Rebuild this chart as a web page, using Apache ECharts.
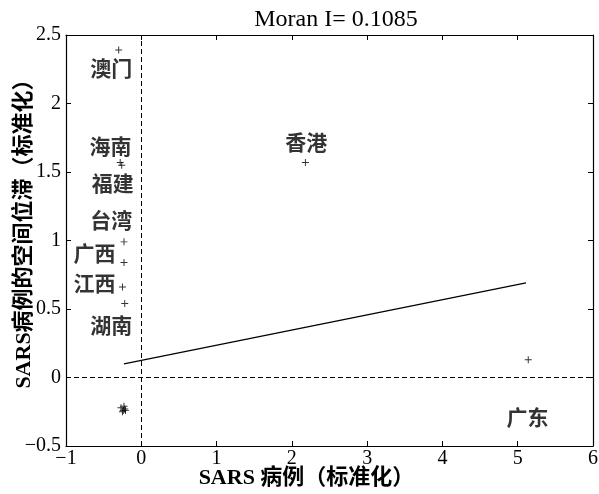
<!DOCTYPE html>
<html><head><meta charset="utf-8">
<script src="https://cdn.jsdelivr.net/npm/echarts@6/dist/echarts.min.js"></script>
<style>html,body{margin:0;padding:0;background:#fff}#c{width:599px;height:494px}</style>
</head><body><div id="c"></div>
<script>
// Data
const pointX = [-0.30, -0.28, -0.26, -0.23, -0.23, -0.25, -0.22, 2.18, 5.14, -0.27, -0.24, -0.22, -0.25, -0.21, -0.23];
const pointY = [2.39, 1.57, 1.55, 0.99, 0.84, 0.66, 0.54, 1.57, 0.13, -0.22, -0.24, -0.23, -0.25, -0.24, -0.21];
const fitX = [-0.23, 5.11];
const fitY = [0.10, 0.69];
const labelNames = ['澳门', '海南', '福建', '台湾', '广西', '江西', '湖南', '香港', '广东'];
const labelX = [-0.40, -0.41, -0.38, -0.40, -0.62, -0.62, -0.40, 2.19, 5.13];
const labelY = [2.26, 1.69, 1.42, 1.15, 0.905, 0.69, 0.38, 1.72, -0.29];
const xTicks = [-1, 0, 1, 2, 3, 4, 5, 6];
const yTicks = [-0.5, 0, 0.5, 1, 1.5, 2, 2.5];
const titleText = 'Moran I= 0.1085';
const xName = 'SARS 病例（标准化）';
const yName = 'SARS病例的空间位滞（标准化）';

const serif = '"Liberation Serif", "DejaVu Serif", serif';
const cjk = '"Liberation Serif", "Noto Sans CJK SC", serif';
const fmt = v => String(v).replace('-', '\u2212');
const plus = 'path://M4.3,0H5.7V4.3H10V5.7H5.7V10H4.3V5.7H0V4.3H4.3Z';

const chart = echarts.init(document.getElementById('c'));
const axBase = {
  type: 'value', splitLine: {show: false},
  axisLine: {show: true, onZero: false, lineStyle: {color: '#000', width: 1.2}},
  axisTick: {show: true, inside: true, length: 5, lineStyle: {color: '#000'}}
};
chart.setOption({
  animation: false,
  backgroundColor: '#fff',
  title: {text: titleText, left: 331, top: 3, textAlign: 'center',
    textStyle: {fontFamily: serif, fontSize: 24, fontWeight: 'normal', color: '#000'}},
  grid: {left: 66, right: 6, top: 35, bottom: 48, outerBoundsMode: 'none', containLabel: false},
  xAxis: [
    Object.assign({}, axBase, {min: xTicks[0], max: xTicks[xTicks.length - 1], interval: 1, position: 'bottom',
      axisLabel: {formatter: fmt, fontFamily: serif, fontSize: 20, color: '#000', margin: 3},
      name: xName, nameLocation: 'middle', nameGap: 21, nameMoveOverlap: false,
      nameTextStyle: {fontFamily: cjk, fontSize: 22, fontWeight: 'bold', color: '#000', padding: [0, 46, 0, 0]}}),
    Object.assign({}, axBase, {min: xTicks[0], max: xTicks[xTicks.length - 1], interval: 1, position: 'top',
      axisLabel: {show: false}})
  ],
  yAxis: [
    Object.assign({}, axBase, {min: yTicks[0], max: yTicks[yTicks.length - 1], interval: 0.5, position: 'left',
      axisLabel: {formatter: fmt, fontFamily: serif, fontSize: 20, color: '#000', margin: 5},
      name: yName, nameLocation: 'middle', nameGap: 31, nameMoveOverlap: false,
      nameTextStyle: {fontFamily: cjk, fontSize: 22, fontWeight: 'bold', color: '#000', padding: [0, 0, 0, 24]}}),
    Object.assign({}, axBase, {min: yTicks[0], max: yTicks[yTicks.length - 1], interval: 0.5, position: 'right',
      axisLabel: {show: false}})
  ],
  series: [
    {type: 'scatter', symbol: plus, symbolSize: 7, itemStyle: {color: '#000'},
      data: pointX.map((x, i) => [x, pointY[i]]),
      markLine: {silent: true, symbol: 'none', label: {show: false},
        lineStyle: {color: '#000', type: [5, 3], width: 1},
        data: [{xAxis: 0}, {yAxis: 0}]}},
    {type: 'line', symbol: 'none', lineStyle: {color: '#000', width: 1.3},
      data: fitX.map((x, i) => [x, fitY[i]])},
    {type: 'scatter', symbolSize: 0, silent: true,
      data: labelX.map((x, i) => ({value: [x, labelY[i]], name: labelNames[i]})),
      label: {show: true, position: 'inside', formatter: p => p.name,
        fontFamily: '"Noto Sans CJK SC", sans-serif', fontSize: 21, fontWeight: 'bold', color: '#000'}}
  ]
});
</script></body></html>
